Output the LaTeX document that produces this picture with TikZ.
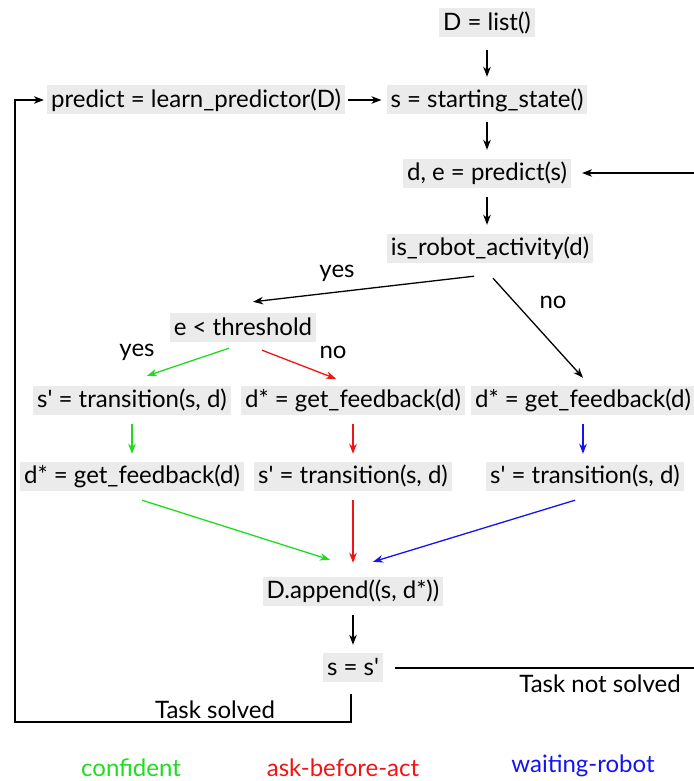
\documentclass[tikz,border=0pt]{standalone}
\usepackage{fontspec}
\setmainfont{Lato}[Ligatures=TeXOff]
\usetikzlibrary{arrows.meta}
\definecolor{boxgray}{RGB}{235,235,235}
\definecolor{cgreen}{RGB}{30,220,30}
\definecolor{cred}{RGB}{240,20,20}
\definecolor{cblue}{RGB}{20,20,240}
\begin{document}
\begin{tikzpicture}[x=1pt,y=-1pt,
  box/.style={fill=boxgray,inner xsep=4pt,inner ysep=0pt,minimum height=29pt,font=\fontsize{24}{28}\selectfont},
  lbl/.style={font=\fontsize{24}{28}\selectfont,inner sep=0pt},
  arr/.style={-{Stealth[length=10pt,width=7.5pt,inset=3pt]},line width=1.3pt},
  ln/.style={line width=1.5pt}]
\useasboundingbox (0,0) rectangle (693,781);
\node[box] (D) at (487,23) {D = list()};
\node[box] (lp) at (196,100) {predict = learn\_predictor(D)};
\node[box] (ss) at (487,100) {s = starting\_state()};
\node[box] (pr) at (487,173) {d, e = predict(s)};
\node[box] (ir) at (490,248) {is\_robot\_activity(d)};
\node[box] (th) at (243,327) {e < threshold};
\node[box] (t1) at (132,400) {s' = transition(s, d)};
\node[box] (g2) at (353,400) {d* = get\_feedback(d)};
\node[box] (g3) at (583,400) {d* = get\_feedback(d)};
\node[box] (g1) at (132,476) {d* = get\_feedback(d)};
\node[box] (t2) at (353,476) {s' = transition(s, d)};
\node[box] (t3) at (585,476) {s' = transition(s, d)};
\node[box] (ap) at (353,591) {D.append((s, d*))};
\node[box] (se) at (353,667) {s = s'};
\coordinate (R1) at (700,173);
\coordinate (R2) at (700,668);
\coordinate (L1) at (15,722);
\coordinate (L2) at (15,100);

\draw[arr] ([shift={(0,12.5)}]D.south) -- ([shift={(0,-8.5)}]ss.north);
\draw[arr] ([shift={(3,0)}]lp.east) -- ([shift={(-5,0)}]ss.west);
\draw[arr] ([shift={(0,7.5)}]ss.south) -- ([shift={(0,-8.5)}]pr.north);
\draw[arr] ([shift={(0,9.5)}]pr.south) -- ([shift={(-3,-8.5)}]ir.north);
\draw[arr] ([shift={(-16,13.5)}]ir.south) -- ([shift={(10,-10.5)}]th.north);
\draw[arr] ([shift={(3,15.5)}]ir.south) -- ([shift={(0,-7.5)}]g3.north);
\draw[arr,cgreen] ([shift={(-14,6.5)}]th.south) -- ([shift={(15,-9.5)}]t1.north);
\draw[arr,cred] ([shift={(19,8.5)}]th.south) -- ([shift={(-17,-6.5)}]g2.north);
\draw[arr,cgreen] ([shift={(0,9.5)}]t1.south) -- ([shift={(0,-7.5)}]g1.north);
\draw[arr,cred] ([shift={(0,9.5)}]g2.south) -- ([shift={(0,-7.5)}]t2.north);
\draw[arr,cblue] ([shift={(0,9.5)}]g3.south) -- ([shift={(-2,-7.5)}]t3.north);
\draw[arr,cgreen] ([shift={(10,9.5)}]g1.south) -- ([shift={(-23,-16.5)}]ap.north);
\draw[arr,cred] ([shift={(0,9.5)}]t2.south) -- ([shift={(0,-13.5)}]ap.north);
\draw[arr,cblue] ([shift={(-10,9.5)}]t3.south) -- ([shift={(20,-14.5)}]ap.north);
\draw[arr] ([shift={(0,9.5)}]ap.south) -- ([shift={(0,-7.5)}]se.north);
\draw[ln] ([shift={(12,1)}]se.east) -- (R2);
\draw[arr] (R1) -- ([shift={(11,0)}]pr.east);
\draw[arr] ([shift={(-2,12.5)}]se.south) |- (L1) -- (L2) -- ([shift={(-3,0)}]lp.west);
\node[lbl] (y1) at (337,273) {yes};
\node[lbl] (n1) at (553,302) {no};
\node[lbl] (y2) at (137,352) {yes};
\node[lbl] (n2) at (333,352) {no};
\node[lbl] (tns) at (600,684) {Task not solved};
\node[lbl] (ts) at (215,710) {Task solved};
\node[lbl,text=cgreen] (lg1) at (131,768) {confident};
\node[lbl,text=cred] (lg2) at (343,768) {ask-before-act};
\node[lbl,text=cblue] (lg3) at (583,766) {waiting-robot};
\end{tikzpicture}
\end{document}
